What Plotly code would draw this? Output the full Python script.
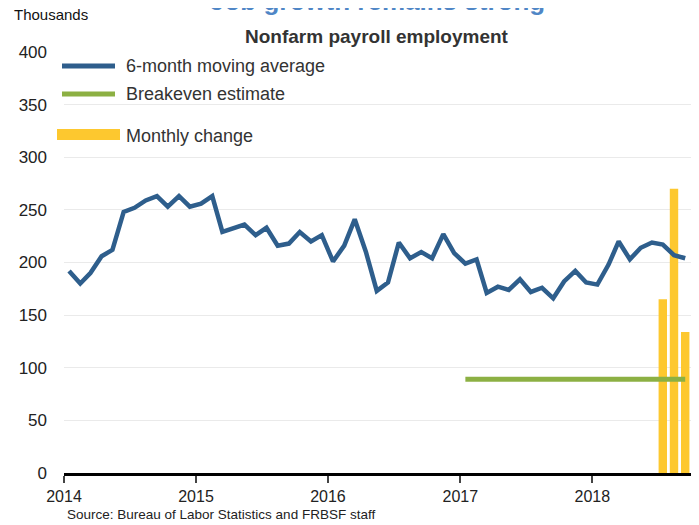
import pandas as pd
import plotly.graph_objects as go

# ---- data ----
moving_avg = [
    192, 180, 190, 206, 212, 248, 252, 259, 263, 253, 263, 253,   # 2014
    256, 263, 229, 233, 236, 226, 233, 216, 218, 229, 220, 226,   # 2015
    201, 216, 241, 210, 173, 181, 219, 204, 210, 204, 227, 209,   # 2016
    199, 203, 171, 177, 174, 184, 172, 176, 166, 182, 192, 181,   # 2017
    179, 198, 220, 203, 214, 219, 217, 207, 204,                  # 2018
]
ma_dates = pd.date_range("2014-01-01", periods=len(moving_avg), freq="MS") + pd.Timedelta(days=14)

breakeven_dates = pd.date_range("2017-01-01", "2018-09-01", freq="MS") + pd.Timedelta(days=14)
breakeven = [89] * len(breakeven_dates)

monthly_months = ["2018-07-15", "2018-08-15", "2018-09-15"]
monthly_change = [165, 270, 134]

year_ticks = ["2014-01-01", "2015-01-01", "2016-01-01", "2017-01-01", "2018-01-01"]
year_labels = ["2014", "2015", "2016", "2017", "2018"]

BLUE = "#2E5E8C"
GREEN = "#8CB043"
YELLOW = "#FDC82F"
TXT = "#333333"
FONT = "Liberation Sans, Arial, sans-serif"

fig = go.Figure()
fig.add_trace(go.Bar(x=pd.to_datetime(monthly_months), y=monthly_change,
                     marker=dict(color=YELLOW, line=dict(width=0)), name="Monthly change"))
fig.add_trace(go.Scatter(x=breakeven_dates, y=breakeven, mode="lines",
                         line=dict(color=GREEN, width=5), name="Breakeven estimate"))
fig.add_trace(go.Scatter(x=ma_dates, y=moving_avg, mode="lines",
                         line=dict(color=BLUE, width=4.5), name="6-month moving average"))

# page body adds an 8px offset; figure sized so that it fills the 699x525 view
OFF = 8
W, H = 699 - OFF, 525 - OFF
L, R, T, B = 64 - OFF, 8, 52 - OFF, 52
pw, ph = W - L - R, H - T - B

def px(xp):  # reference screen x -> paper x
    return (xp - OFF - L) / pw

def py(yp):  # reference screen y -> paper y
    return (H - B - (yp - OFF)) / ph

shapes = [
    dict(type="line", xref="paper", yref="paper", x0=px(62), x1=px(115), y0=py(66), y1=py(66),
         line=dict(color=BLUE, width=5)),
    dict(type="line", xref="paper", yref="paper", x0=px(62), x1=px(115), y0=py(94), y1=py(94),
         line=dict(color=GREEN, width=5)),
    dict(type="rect", xref="paper", yref="paper", x0=px(57), x1=px(120), y0=py(140), y1=py(129),
         fillcolor=YELLOW, line=dict(width=0)),
]

annotations = [
    dict(text="6-month moving average", x=px(124), y=py(66), xanchor="left", yanchor="middle"),
    dict(text="Breakeven estimate", x=px(124), y=py(94), xanchor="left", yanchor="middle"),
    dict(text="Monthly change", x=px(124), y=py(136), xanchor="left", yanchor="middle"),
]
for a in annotations:
    a.update(xref="paper", yref="paper", showarrow=False, font=dict(size=18, color=TXT, family=FONT))

annotations += [
    dict(text="<b>Job growth remains strong</b>", x=px(377), y=py(18), xanchor="center", yanchor="bottom",
         xref="paper", yref="paper", showarrow=False, font=dict(size=26, color="#4F86C6", family=FONT)),
    dict(text="<b>Nonfarm payroll employment</b>", x=px(377), y=py(36), xanchor="center", yanchor="middle",
         xref="paper", yref="paper", showarrow=False, font=dict(size=19, color=TXT, family=FONT)),
    dict(text="Thousands", x=px(12), y=py(15), xanchor="left", yanchor="middle",
         xref="paper", yref="paper", showarrow=False, font=dict(size=15, color="#111111", family=FONT)),
    dict(text="Source: Bureau of Labor Statistics and FRBSF staff", x=px(65), y=py(515),
         xanchor="left", yanchor="middle", xref="paper", yref="paper", showarrow=False,
         font=dict(size=13.5, color="#222222", family=FONT)),
]

fig.update_layout(
    width=W, height=H,
    margin=dict(l=L, r=R, t=T, b=B),
    paper_bgcolor="white", plot_bgcolor="white",
    showlegend=False, bargap=0.25,
    font=dict(family=FONT, color=TXT),
    shapes=shapes, annotations=annotations,
)
fig.update_xaxes(
    type="date", range=["2014-01-01", "2018-10-01"],
    tickvals=pd.to_datetime(year_ticks), ticktext=year_labels,
    ticks="outside", ticklen=7, tickwidth=1.5, tickcolor="#444444",
    showline=True, linecolor="black", linewidth=3,
    showgrid=False, zeroline=False,
    tickfont=dict(size=16, color="#222222", family=FONT),
)
fig.update_yaxes(
    range=[0, 400], dtick=50, showgrid=True, gridcolor="#EAEAEA", gridwidth=1.3,
    zeroline=False, showline=False, ticks="", ticklabelstandoff=16,
    tickfont=dict(size=17, color="#222222", family=FONT),
)

fig.write_html("out.html")
